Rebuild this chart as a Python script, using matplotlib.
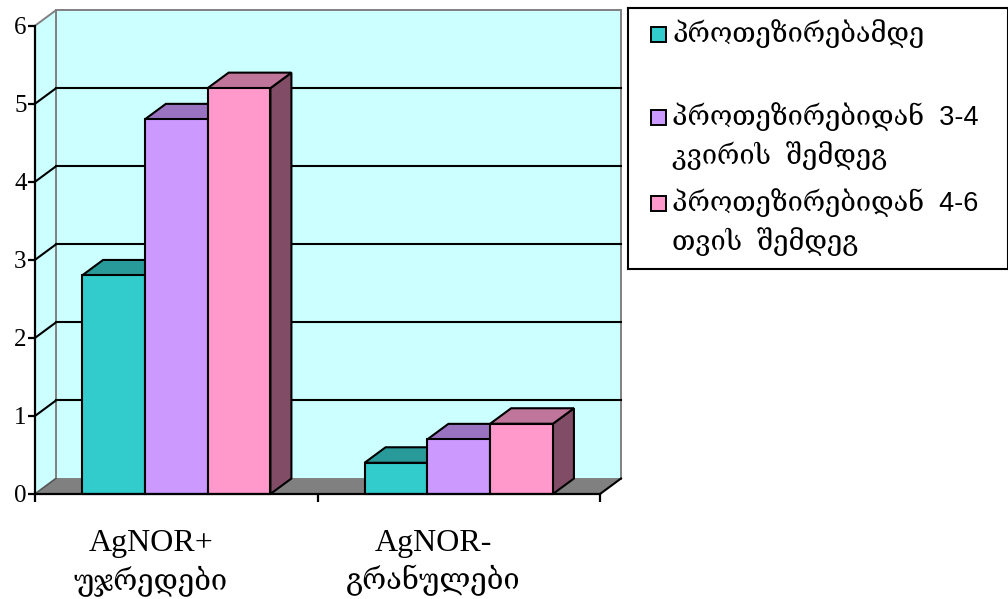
import matplotlib
matplotlib.use("Agg")
import matplotlib.pyplot as plt
from matplotlib.patches import Polygon, Rectangle

# ---- data -------------------------------------------------------------
categories = ["AgNOR+\nუჯრედები", "AgNOR-\nგრანულები"]
series_names = [
    "პროთეზირებამდე",
    "პროთეზირებიდან  3-4\nკვირის  შემდეგ",
    "პროთეზირებიდან  4-6\nთვის  შემდეგ",
]
before = [2.8, 0.4]
after_3_4_weeks = [4.8, 0.7]
after_4_6_months = [5.2, 0.9]
series_values = [before, after_3_4_weeks, after_4_6_months]
y_ticks = [0, 1, 2, 3, 4, 5, 6]

# ---- style ------------------------------------------------------------
front_colors = ["#33CCCC", "#CC99FF", "#FF99CC"]
top_colors = ["#299A9A", "#9A73C0", "#C0769A"]
side_colors = ["#1A6666", "#664D80", "#804C66"]
wall_color = "#CCFFFF"
floor_color = "#808080"
edge_gray = "#808080"
LW = 1.5

SERIF = ["Liberation Serif", "DejaVu Serif"]
GEO = ["DejaVu Serif"]

fig = plt.figure(figsize=(10.08, 5.99), dpi=100)
ax = fig.add_axes([35 / 1008, 105 / 599, 565 / 1008, 468.3 / 599])

n_cat = len(categories)
y_max = y_ticks[-1]
ax.set_xlim(0, n_cat)
ax.set_ylim(0, y_max)

# depth of the pseudo-3D box, in data units
DX = 21 / 282.5
DY = 15.5 / 78.05

# walls
back = Polygon([(DX, DY), (n_cat + DX, DY), (n_cat + DX, y_max + DY), (DX, y_max + DY)],
               closed=True, facecolor=wall_color, edgecolor=edge_gray, lw=1.4,
               clip_on=False, zorder=1)
left = Polygon([(0, 0), (DX, DY), (DX, y_max + DY), (0, y_max)],
               closed=True, facecolor=wall_color, edgecolor=edge_gray, lw=1.4,
               clip_on=False, zorder=1)
ax.add_patch(back)
ax.add_patch(left)

# gridlines on back wall and left wall
for v in y_ticks[1:-1]:
    ax.plot([DX, n_cat + DX], [v + DY, v + DY], color="black", lw=LW,
            clip_on=False, zorder=2)
    ax.plot([0, DX], [v, v + DY], color="black", lw=LW, clip_on=False, zorder=2)

# floor
floor = Polygon([(0, 0), (n_cat, 0), (n_cat + DX, DY), (DX, DY)], closed=True,
                facecolor=floor_color, edgecolor="none", clip_on=False, zorder=3)
ax.add_patch(floor)
ax.plot([n_cat, n_cat + DX], [0, DY], color="black", lw=LW, clip_on=False, zorder=3)
ax.plot([0, DX], [0, DY], color="#555555", lw=1.0, clip_on=False, zorder=3)

# bars
n_ser = len(series_values)
gap = 1.5
bw = 1.0 / (n_ser + gap)
for ci in range(n_cat):
    x_start = ci + gap * bw / 2
    for si, vals in enumerate(series_values):
        v = vals[ci]
        x0 = x_start + si * bw
        x1 = x0 + bw
        side = Polygon([(x1, 0), (x1 + DX, DY), (x1 + DX, v + DY), (x1, v)],
                       closed=True, facecolor=side_colors[si], edgecolor="black",
                       lw=LW, joinstyle="miter", clip_on=False, zorder=4)
        top = Polygon([(x0, v), (x1, v), (x1 + DX, v + DY), (x0 + DX, v + DY)],
                      closed=True, facecolor=top_colors[si], edgecolor="black",
                      lw=LW, joinstyle="miter", clip_on=False, zorder=4)
        ax.add_patch(side)
        ax.add_patch(top)
        ax.bar(x0, v, width=bw, bottom=0, align="edge", color=front_colors[si],
               edgecolor="black", lw=LW, zorder=4, clip_on=False)

# axes lines and ticks
for s in ["top", "right"]:
    ax.spines[s].set_visible(False)
for s in ["left", "bottom"]:
    ax.spines[s].set_color("black")
    ax.spines[s].set_linewidth(1.6)
    ax.spines[s].set_zorder(6)
ax.set_facecolor("none")
ax.set_yticks(y_ticks)
ax.set_yticklabels([str(t) for t in y_ticks], family=SERIF, fontsize=18)
ax.tick_params(axis="y", direction="out", length=5, width=1.6, pad=1)
ax.set_xticks(range(n_cat + 1))
ax.set_xticklabels([])
ax.tick_params(axis="x", direction="out", length=6, width=1.6)

# category labels
for ci, name in enumerate(categories):
    line1, line2 = name.split("\n")
    ax.text(ci + 0.5 - 0.09, -0.73, line1, family=SERIF, fontsize=23,
            ha="center", va="baseline", transform=ax.transData)
    ax.text(ci + 0.5 - 0.09, -1.22, line2, family=SERIF, fontsize=21,
            ha="center", va="baseline", transform=ax.transData)

# legend box
lax = fig.add_axes([627.5 / 1008, (599 - 268.5) / 599, 380 / 1008, 260.5 / 599])
lax.set_xlim(0, 380)
lax.set_ylim(260.5, 0)
lax.set_xticks([])
lax.set_yticks([])
for s in lax.spines.values():
    s.set_linewidth(1.5)
    s.set_color("black")

row_first_baselines = [34, 117, 203]
line_step = 39
for si, name in enumerate(series_names):
    yb = row_first_baselines[si]
    lax.add_patch(Rectangle((23, yb - 15), 15, 15, facecolor=front_colors[si],
                            edgecolor="black", lw=1.4))
    for li, line in enumerate(name.split("\n")):
        lax.text(45, yb + li * line_step, line, family=["Liberation Sans"] + GEO,
                 fontsize=19.5, ha="left", va="baseline")

fig.savefig("out.png", dpi=100)
